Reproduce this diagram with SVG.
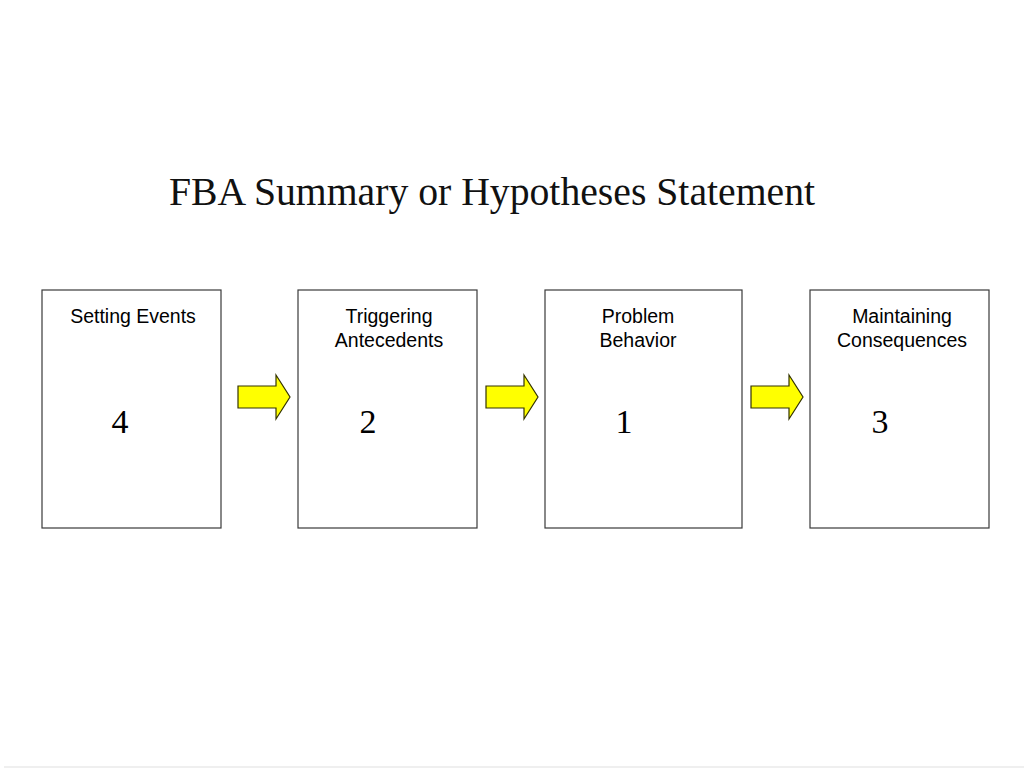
<svg xmlns="http://www.w3.org/2000/svg" width="1024" height="768" viewBox="0 0 1024 768">
<style>
.box{fill:#ffffff;stroke:#3a3a3a;stroke-width:1.2}
.lbl{font-family:"Liberation Sans",Arial,sans-serif;font-size:19.5px;fill:#000;text-anchor:middle}
.num{font-family:"Liberation Serif","Times New Roman",serif;font-size:34px;fill:#000;text-anchor:middle}
.arr{fill:#ffff00;stroke:#333300;stroke-width:1.2;stroke-linejoin:miter}
</style>
<rect x="0" y="0" width="1024" height="768" fill="#ffffff"/>
<rect x="4" y="766" width="1020" height="2" fill="#efefef"/>
<text x="492" y="205" font-family="'Liberation Serif','Times New Roman',serif" font-size="40" text-anchor="middle" textLength="646" lengthAdjust="spacingAndGlyphs" fill="#111">FBA Summary or Hypotheses Statement</text>
<g id="node-setting">
<rect class="box" x="42" y="290" width="179" height="238"/>
<text class="lbl" x="133" y="323">Setting Events</text>
<text class="num" x="120" y="433">4</text>
</g>
<g id="node-triggering">
<rect class="box" x="298" y="290" width="179" height="238"/>
<text class="lbl" x="389" y="323">Triggering</text>
<text class="lbl" x="389" y="347">Antecedents</text>
<text class="num" x="368" y="433">2</text>
</g>
<g id="node-problem">
<rect class="box" x="545" y="290" width="197" height="238"/>
<text class="lbl" x="638" y="323">Problem</text>
<text class="lbl" x="638" y="347">Behavior</text>
<text class="num" x="624" y="433">1</text>
</g>
<g id="node-maintaining">
<rect class="box" x="810" y="290" width="179" height="238"/>
<text class="lbl" x="902" y="323">Maintaining</text>
<text class="lbl" x="902" y="347">Consequences</text>
<text class="num" x="880" y="433">3</text>
</g>
<g id="connectors">
<path class="arr" d="M238,386 H276 V375 L290,397 L276,419 V408 H238 Z"/>
<path class="arr" d="M486,386 H524 V375 L538,397 L524,419 V408 H486 Z"/>
<path class="arr" d="M751,386 H789 V375 L803,397 L789,419 V408 H751 Z"/>
</g>
</svg>
